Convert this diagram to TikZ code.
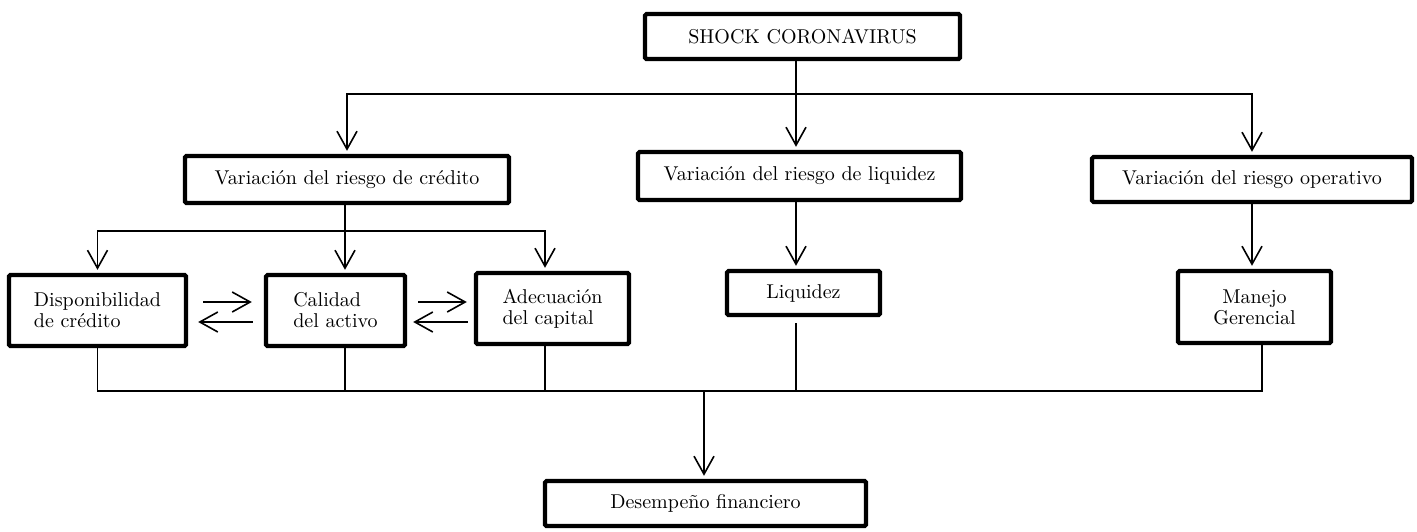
\documentclass[tikz,border=0pt]{standalone}
\usetikzlibrary{arrows.meta}
\tikzset{box/.style={draw, line width=2.2pt, rounded corners=0.8pt, inner sep=0pt,
      font=\fontsize{10}{10.5}\selectfont}}
\tikzset{link/.style={line width=0.8pt}}
\tikzset{arr/.style={link, -{Straight Barb[length=9pt,width=10pt]}, shorten >=1.5pt}}
\begin{document}
\begin{tikzpicture}[x=0.5pt,y=-0.5pt]
    \useasboundingbox (0,0) rectangle (1417,531);
    \node[box, minimum width=157.5pt, minimum height=22.5pt] (shock) at (802.5,36.5) {SHOCK CORONAVIRUS};
    \node[box, minimum width=162pt, minimum height=23.5pt] (vcred) at (347,179.5) {Variación del riesgo de crédito};
    \node[box, minimum width=161.5pt, minimum height=24pt] (vliq) at (799.5,176) {Variación del riesgo de liquidez};
    \node[box, minimum width=160pt, minimum height=22.5pt] (vope) at (1252,179.5) {Variación del riesgo operativo};
    \node[box, minimum width=88.5pt, minimum height=35.5pt, align=left] (disp) at (97.5,310.5) {Disponibilidad\\de crédito};
    \node[box, minimum width=69.5pt, minimum height=35.5pt, align=left] (cal) at (335.5,310.5) {Calidad\\del activo};
    \node[box, minimum width=76.5pt, minimum height=35.5pt, align=left] (adec) at (552.5,308.5) {Adecuación\\del capital};
    \node[box, minimum width=76.5pt, minimum height=22pt] (liq) at (803.5,293) {Liquidez};
    \node[box, minimum width=76.5pt, minimum height=36pt, align=center] (man) at (1254.5,307) {Manejo\\Gerencial};
    \node[box, minimum width=160.5pt, minimum height=22.5pt] (desem) at (705.5,503.5) {Desempeño financiero};

    \coordinate (j1) at (796,94);
    \coordinate (j2) at (345,231);
    \coordinate (a1) at (545,231);
    \coordinate (j3) at (704,391);
    \coordinate (m1) at (1262,391);

    \draw[arr] (shock.south -| j1) -- (vliq.north -| j1);
    \draw[arr] (j1) -| (vcred);
    \draw[arr] (j1) -| (vope);

    \draw[arr] (vcred.south -| j2) -- (cal.north -| j2);
    \draw[arr] (j2) -| (disp);
    \draw[arr] (j2) -- (a1) -- (adec.north -| a1);
    \draw[arr] (vliq.south -| j1) -- (liq.north -| j1);
    \draw[arr] (vope) -- (vope |- man.north);

    \draw[arr, shorten <=7.5pt, shorten >=6pt] ([yshift=4.25pt]disp.east) -- ([yshift=4.25pt]disp.east -| cal.west);
    \draw[arr, shorten <=5.5pt, shorten >=5pt] ([yshift=-5.75pt]cal.west) -- ([yshift=-5.75pt]cal.west -| disp.east);
    \draw[arr, shorten <=5.5pt, shorten >=3.5pt] ([yshift=4.25pt]cal.east) -- ([yshift=4.25pt]cal.east -| adec.west);
    \draw[arr, shorten <=3pt, shorten >=3pt] ([yshift=-5.75pt]cal.east -| adec.west) -- ([yshift=-5.75pt]cal.east);

    \draw[link] (disp) |- (j3);
    \draw[link] (cal.south -| j2) -- (j2 |- j3);
    \draw[link] (adec.south -| a1) -- (a1 |- j3);
    \draw[link, shorten <=3pt] (liq.south -| j1) -- (j1 |- j3);
    \draw[link] (man.south -| m1) -- (m1) -- (j3);
    \draw[arr] (j3) -- (desem.north -| j3);
\end{tikzpicture}
\end{document}
